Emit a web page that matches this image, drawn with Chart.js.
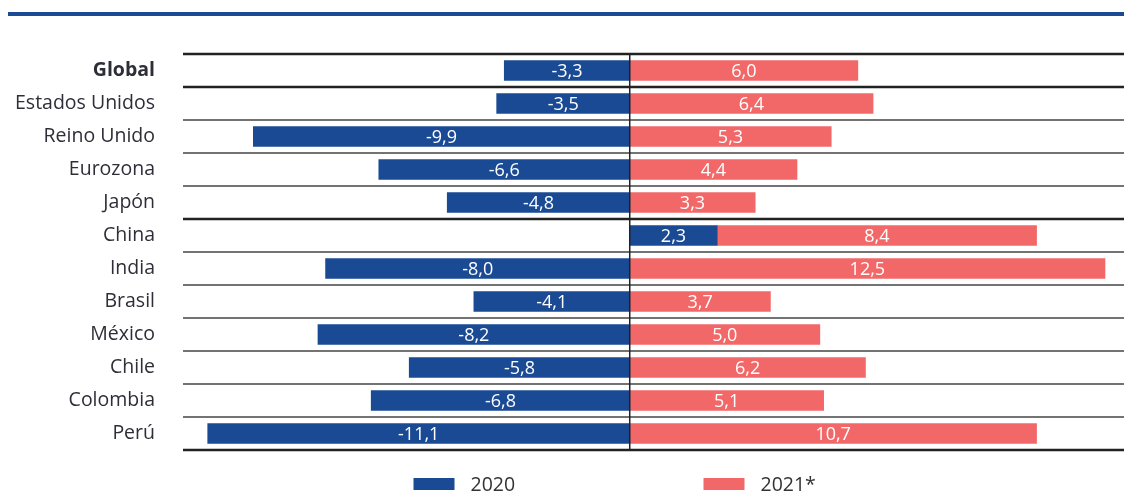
<!DOCTYPE html>
<html>
<head>
<meta charset="utf-8">
<script src="https://cdn.jsdelivr.net/npm/chart.js@4.4.1/dist/chart.umd.min.js"></script>
<style>
  html, body { margin: 0; padding: 0; background: #fff; }
  #wrap { position: relative; width: 1124px; height: 494px; }
  #topbar { position: absolute; left: 8px; right: 0; top: 12px; height: 4px; background: #1a4a94; }
  canvas { position: absolute; left: 0; top: 0; }
</style>
</head>
<body>
<div id="wrap">
  <canvas id="c" width="1124" height="494"></canvas>
  <div id="topbar"></div>
</div>
<script>
const categories = ['Global', 'Estados Unidos', 'Reino Unido', 'Eurozona', 'Japón', 'China', 'India', 'Brasil', 'México', 'Chile', 'Colombia', 'Perú'];
const values2020 = [-3.3, -3.5, -9.9, -6.6, -4.8, 2.3, -8.0, -4.1, -8.2, -5.8, -6.8, -11.1];
const values2021 = [6.0, 6.4, 5.3, 4.4, 3.3, 8.4, 12.5, 3.7, 5.0, 6.2, 5.1, 10.7];
const seriesNames = ['2020', '2021*'];
const thickAfter = [0, 4]; // separators drawn heavier: below Global and below Japón

const BLUE = '#1a4a94';
const RED = '#f26868';
const FONT = "'Open Sans', 'Noto Sans', sans-serif";

const fmt = v => v.toFixed(1).replace('.', ',');

const decor = {
  id: 'decor',
  beforeDatasetsDraw(chart) {
    const ctx = chart.ctx, ca = chart.chartArea, y = chart.scales.y;
    const n = categories.length;
    const step = y.getPixelForValue(1) - y.getPixelForValue(0);
    ctx.save();
    for (let i = 0; i <= n; i++) {
      const py = (i < n ? y.getPixelForValue(i) : y.getPixelForValue(n - 1) + step) - step / 2;
      const heavy = i === 0 || i === n || thickAfter.includes(i - 1);
      ctx.strokeStyle = heavy ? '#222' : '#444';
      ctx.lineWidth = heavy ? 2.5 : 1.5;
      ctx.beginPath();
      ctx.moveTo(ca.left, py);
      ctx.lineTo(ca.right, py);
      ctx.stroke();
    }
    ctx.restore();
  },
  afterDatasetsDraw(chart) {
    const ctx = chart.ctx, ca = chart.chartArea, x = chart.scales.x;
    ctx.save();
    const x0 = x.getPixelForValue(0);
    ctx.strokeStyle = '#222';
    ctx.lineWidth = 1.5;
    ctx.beginPath();
    ctx.moveTo(x0, ca.top);
    ctx.lineTo(x0, ca.bottom);
    ctx.stroke();
    ctx.font = '18px ' + FONT;
    ctx.fillStyle = '#fff';
    ctx.textAlign = 'center';
    ctx.textBaseline = 'middle';
    chart.data.datasets.forEach((ds, di) => {
      const meta = chart.getDatasetMeta(di);
      meta.data.forEach((bar, i) => {
        const cx = (bar.x + bar.base) / 2;
        ctx.fillText(fmt(ds.data[i]), cx, bar.y + 1);
      });
    });
    const ly = 484;
    const cxm = (ca.left + ca.right) / 2;
    const items = [
      { label: seriesNames[0], color: BLUE, bx: cxm - 240 },
      { label: seriesNames[1], color: RED, bx: cxm + 50 }
    ];
    ctx.font = '19.5px ' + FONT;
    ctx.textAlign = 'left';
    items.forEach(it => {
      ctx.fillStyle = it.color;
      ctx.fillRect(it.bx, ly - 6, 41, 12);
      ctx.fillStyle = '#333';
      ctx.fillText(it.label, it.bx + 57, ly + 1);
    });
    ctx.restore();
  }
};

new Chart(document.getElementById('c'), {
  type: 'bar',
  data: {
    labels: categories,
    datasets: [
      { label: seriesNames[0], data: values2020, backgroundColor: BLUE, barThickness: 20 },
      { label: seriesNames[1], data: values2021, backgroundColor: RED, barThickness: 20 }
    ]
  },
  options: {
    indexAxis: 'y',
    responsive: false,
    animation: false,
    devicePixelRatio: 1,
    layout: { padding: { top: 54, bottom: 44, left: 0, right: 0 } },
    plugins: { legend: { display: false }, tooltip: { enabled: false } },
    scales: {
      x: { stacked: true, display: false, min: -11.75, max: 13 },
      y: {
        stacked: true,
        grid: { display: false, drawTicks: false },
        border: { display: false },
        afterFit(scale) { scale.width = 183; },
        ticks: {
          padding: 28,
          color: '#2e2e38',
          font: ctx => ({ family: FONT, size: 19.5, weight: ctx.index === 0 ? 'bold' : 'normal' })
        }
      }
    }
  },
  plugins: [decor]
});
</script>
</body>
</html>
